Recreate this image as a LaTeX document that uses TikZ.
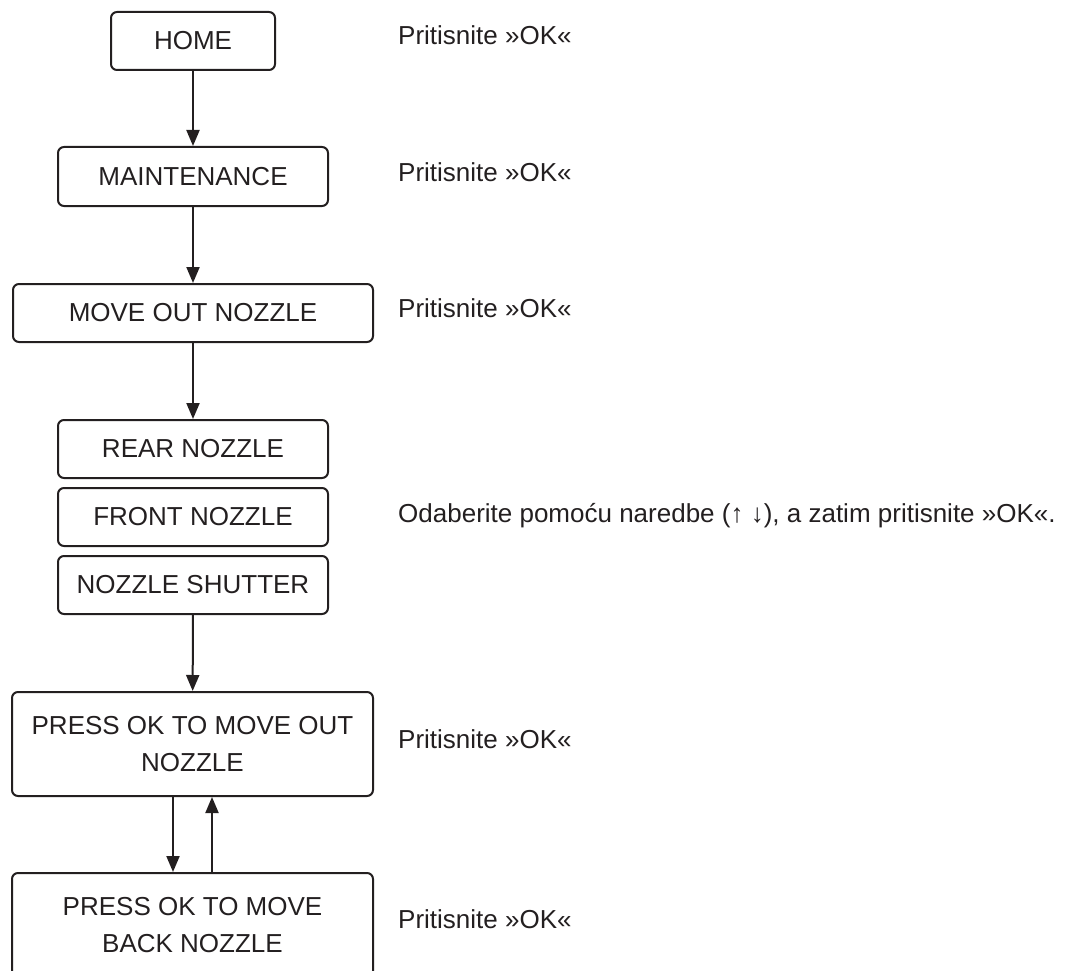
\documentclass[tikz,border=0pt]{standalone}
\usepackage{fontspec}
\setmainfont{Liberation Sans}
\usepackage{tikz}
\usetikzlibrary{arrows.meta}
\definecolor{ink}{HTML}{231F20}

\tikzset{
    menubox/.style={draw=ink, line width=2pt, rounded corners=6pt, text=ink,
        align=center, inner sep=0pt, minimum height=58pt},
    hint/.style={anchor=base west, text=ink, inner sep=0pt},
    flow/.style={draw=ink, line width=2pt, -{Triangle[length=16pt,width=13pt]}}
}

\begin{document}
\begin{tikzpicture}[x=1pt,y=-1pt,font=\fontsize{26}{37}\selectfont]
\useasboundingbox (0,0) rectangle (1074,971);
\clip (0,0) rectangle (1074,971);

\node[menubox, minimum width=164pt] (home) at (193,41) {HOME};
\node[menubox, minimum width=270pt, minimum height=59pt] (maint) at (193,176.5) {MAINTENANCE};
\node[menubox, minimum width=360pt] (moveout) at (193,313) {MOVE OUT NOZZLE};
\node[menubox, minimum width=270pt] (rear) at (193,449) {REAR NOZZLE};
\node[menubox, minimum width=270pt] (front) at (193,517) {FRONT NOZZLE};
\node[menubox, minimum width=270pt] (shutter) at (193,585) {NOZZLE SHUTTER};
\node[menubox, minimum width=361pt, minimum height=104pt] (pressout) at (192.5,744) {PRESS OK TO MOVE OUT\\NOZZLE};
\node[menubox, minimum width=361pt, minimum height=104pt] (pressback) at (192.5,925) {PRESS OK TO MOVE\\BACK NOZZLE};

\draw[flow] (home) -- (maint);
\draw[flow] (maint) -- (moveout);
\draw[flow] (moveout) -- (rear);
\draw[flow] (shutter) -- (pressout);
\draw[flow] ([xshift=-19.5pt]pressout.south) -- ([xshift=-19.5pt]pressback.north);
\draw[flow] ([xshift=19.5pt]pressback.north) -- ([xshift=19.5pt]pressout.south);

% hints on the right
\node[hint] (hhome) at (398,45) {Pritisnite »OK«};
\node[hint] (hmaint) at (398,182) {Pritisnite »OK«};
\node[hint] (hmove) at (398,317) {Pritisnite »OK«};
\node[hint] (hselect) at (398,522) {Odaberite pomoću naredbe (↑ ↓), a zatim pritisnite »OK«.};
\node[hint] (hout) at (398,748) {Pritisnite »OK«};
\node[hint] (hback) at (398,928) {Pritisnite »OK«};
\end{tikzpicture}
\end{document}
